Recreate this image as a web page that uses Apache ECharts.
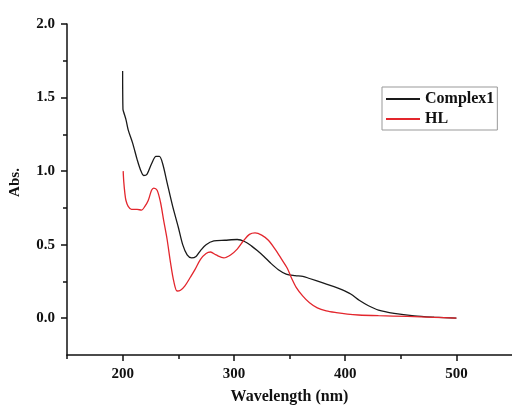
<!DOCTYPE html>
<html>
<head>
<meta charset="utf-8">
<script src="https://cdn.jsdelivr.net/npm/echarts@6/dist/echarts.min.js"></script>
<style>html,body{margin:0;padding:0;background:#fff;}#c{width:512px;height:410px;}</style>
</head>
<body>
<div id="c"></div>
<script>
const seriesNames = ['Complex1', 'HL'];
const wavelengthComplex = [200, 200.3, 201, 203, 205, 209, 213, 216, 219, 222, 226, 230, 233, 236, 240, 245, 250, 254, 258, 262, 266, 270, 275, 282, 292, 303, 310, 316, 321, 327, 333, 340, 347, 355, 362, 368, 380, 390, 397, 405, 413, 421, 430, 444, 462, 480, 500];
const absComplex = [1.68, 1.42, 1.40, 1.35, 1.28, 1.19, 1.08, 1.01, 0.97, 0.98, 1.05, 1.10, 1.10, 1.05, 0.92, 0.76, 0.62, 0.50, 0.43, 0.41, 0.42, 0.46, 0.50, 0.525, 0.53, 0.535, 0.52, 0.49, 0.46, 0.42, 0.375, 0.33, 0.30, 0.29, 0.285, 0.27, 0.24, 0.215, 0.195, 0.165, 0.12, 0.085, 0.055, 0.033, 0.016, 0.007, 0.0];
const wavelengthHL = [200.5, 201, 202, 203, 205, 208, 213, 217, 220, 223, 226, 228, 231, 234, 237, 240, 243, 246, 249, 252, 256, 261, 265, 270, 275, 279, 284, 291, 297, 303, 309, 314, 319, 325, 331, 337, 343, 348, 352, 356, 362, 368, 375, 383, 392, 402, 412, 430, 456, 480, 500];
const absHL = [1.0, 0.93, 0.85, 0.80, 0.76, 0.74, 0.74, 0.735, 0.76, 0.80, 0.87, 0.885, 0.87, 0.79, 0.66, 0.535, 0.38, 0.25, 0.185, 0.19, 0.22, 0.28, 0.33, 0.40, 0.44, 0.45, 0.43, 0.41, 0.43, 0.47, 0.53, 0.57, 0.58, 0.565, 0.53, 0.47, 0.40, 0.34, 0.27, 0.21, 0.15, 0.105, 0.07, 0.05, 0.038, 0.028, 0.022, 0.017, 0.012, 0.006, 0.0];
const xMajorTicks = [200, 300, 400, 500];
const xMinorTicks = [150, 250, 350, 450];
const yMajorTicks = [0, 0.5, 1.0, 1.5, 2.0];
const yMinorTicks = [0.25, 0.75, 1.25, 1.75];

const FONT = '"Liberation Serif", "DejaVu Serif", serif';
const txt = {fontFamily: FONT, fontWeight: 'bold', fontSize: 15, color: '#111'};
const axisLine = {show: true, onZero: false, lineStyle: {color: '#111', width: 1.5}};

const chart = echarts.init(document.getElementById('c'), null, {renderer: 'canvas'});
chart.setOption({
  backgroundColor: '#fff',
  animation: false,
  grid: {left: 67, top: 24, right: -8, bottom: 52.5, containLabel: false},
  legend: {
    orient: 'vertical', left: 382, top: 87,
    padding: [4, 3, 3, 4], itemGap: 4, itemWidth: 34, itemHeight: 2,
    borderColor: '#999', borderWidth: 1,
    icon: 'rect',
    textStyle: {fontFamily: FONT, fontWeight: 'bold', fontSize: 16, color: '#111'},
    data: seriesNames
  },
  xAxis: [{
    type: 'value', min: 150, max: 550,
    name: 'Wavelength (nm)', nameLocation: 'middle', nameGap: 34,
    nameTextStyle: {...txt, fontSize: 16},
    axisLine: axisLine,
    axisTick: {show: true, customValues: xMajorTicks, length: 6, lineStyle: {color: '#111', width: 1.5}},
    axisLabel: {customValues: xMajorTicks, margin: 12, ...txt},
    splitLine: {show: false}
  }, {
    type: 'value', min: 150, max: 550, position: 'bottom',
    axisLine: {show: false, onZero: false},
    axisTick: {show: true, customValues: xMinorTicks, length: 4, lineStyle: {color: '#111', width: 1.5}},
    axisLabel: {show: false},
    splitLine: {show: false}
  }],
  yAxis: [{
    type: 'value', min: -0.25, max: 2.0,
    name: 'Abs.', nameLocation: 'middle', nameGap: 44,
    nameTextStyle: {...txt, padding: [0, 0, 0, 14]},
    axisLine: axisLine,
    axisTick: {show: true, customValues: yMajorTicks, length: 6, lineStyle: {color: '#111', width: 1.5}},
    axisLabel: {customValues: yMajorTicks, margin: 12, formatter: v => v.toFixed(1), ...txt},
    splitLine: {show: false}
  }, {
    type: 'value', min: -0.25, max: 2.0, position: 'left',
    axisLine: {show: false, onZero: false},
    axisTick: {show: true, customValues: yMinorTicks, length: 4, lineStyle: {color: '#111', width: 1.5}},
    axisLabel: {show: false},
    splitLine: {show: false}
  }],
  series: [{
    name: seriesNames[0], type: 'line', symbol: 'none', smooth: 0.3,
    lineStyle: {color: '#1a1a1a', width: 1.3}, itemStyle: {color: '#1a1a1a'},
    data: wavelengthComplex.map((w, i) => [w, absComplex[i]])
  }, {
    name: seriesNames[1], type: 'line', symbol: 'none', smooth: 0.3,
    lineStyle: {color: '#e3262d', width: 1.3}, itemStyle: {color: '#e3262d'},
    data: wavelengthHL.map((w, i) => [w, absHL[i]])
  }]
});
</script>
</body>
</html>
